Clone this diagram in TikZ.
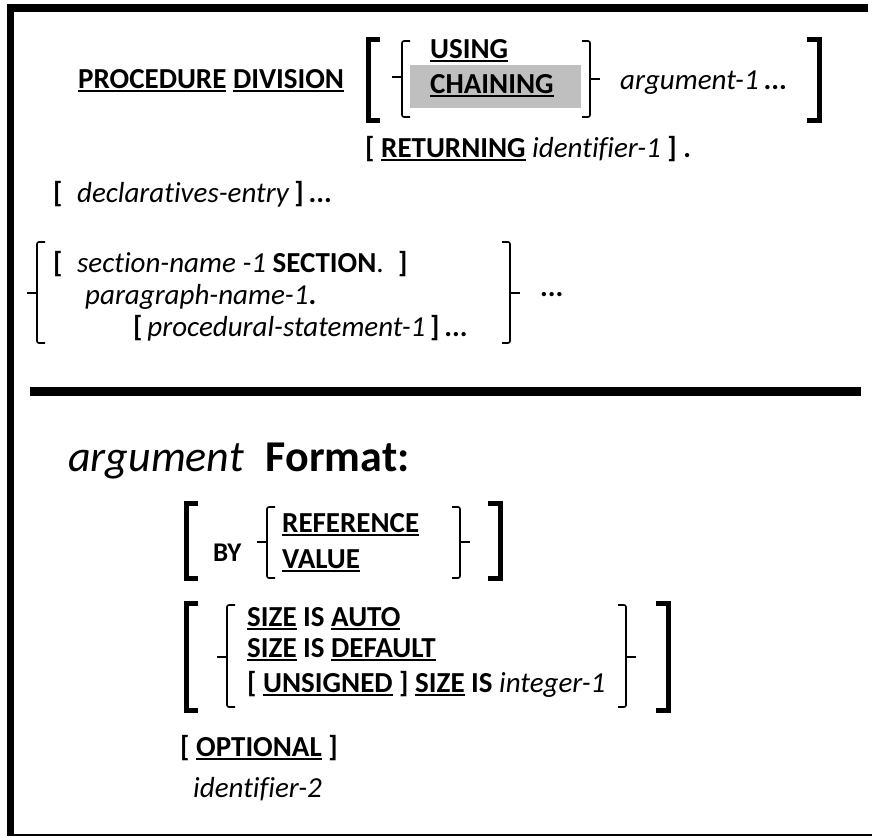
\documentclass[tikz,border=0pt]{standalone}
\usepackage{fontspec}
\setmainfont{Carlito}[Ligatures=NoCommon]
\usepackage{tikz}

% underlined bold keyword
\newcommand\kw[1]{\setbox0\hbox{\bfseries #1}\rlap{\rule[-4pt]{\wd0}{2.5pt}}\box0\relax}

\begin{document}
\begin{tikzpicture}[x=1pt,y=-1pt]
                \tikzstyle{txt}=[anchor=base west,inner sep=0pt,font=\fontsize{29}{35}\selectfont]
                \tikzstyle{bigbr}=[line width=5pt]
                \tikzstyle{brace}=[line width=1.6pt,rounded corners=2pt]
                \useasboundingbox (0,0) rectangle (872,836);

                % frame
                \fill (7,4) rectangle (868,12);
                \fill (7,4) rectangle (14,836);
                \draw[line width=1.5pt] (7,835) -- (872,835);

                % PROCEDURE DIVISION header
                \node[txt] (proc) at (78,88) {\kw{PROCEDURE} \kw{DIVISION}};
                \node[fill=black!25,minimum width=171pt,minimum height=43pt,anchor=north west,inner sep=0pt] (chainbox) at (410,65) {};
                \node[txt] (using) at (430,58) {\kw{USING}};
                \node[txt] (chaining) at (430,93) {\kw{CHAINING}};
                \node[txt] (arg1) at (620,89) {\textit{argument-1}\,\textbf{...}};
                \node[txt] (ret) at (365,157) {\textbf{[} \kw{RETURNING} \textit{identifier-1} \textbf{] .}};
                \node[txt] (decl) at (53,202) {\textbf{[}\enspace\textit{declaratives-entry}\,\textbf{]\,...}};
                \node[txt] (sect) at (53,272) {\textbf{[}\enspace\textit{section-name -1} \textbf{SECTION}.\enspace\textbf{]}};
                \node[txt] (para) at (85,304) {\textit{paragraph-name-1}\textbf{.}};
                \node[txt] (stmt) at (133,336) {\textbf{[}\,\textit{procedural-statement-1}\,\textbf{]\,...}};
                \node[txt] (sectdots) at (540,296) {\textbf{...}};

                % divider
                \fill (30,387) rectangle (861,396);

                % argument format
                \node[txt,font=\fontsize{44}{52}\selectfont] (fmt) at (68,471) {\textit{argument}\enspace\textbf{Format:}};
                \node[txt,font=\fontsize{27}{33}\selectfont] (by) at (213,561) {\textbf{BY}};
                \node[txt] (byref) at (282,532) {\kw{REFERENCE}};
                \node[txt] (byval) at (282,568) {\kw{VALUE}};
                \node[txt] (sauto) at (247,626) {\kw{SIZE} \textbf{IS} \kw{AUTO}};
                \node[txt] (sdef) at (247,657) {\kw{SIZE} \textbf{IS} \kw{DEFAULT}};
                \node[txt] (sint) at (247,692) {\textbf{[} \kw{UNSIGNED} \textbf{]} \kw{SIZE} \textbf{IS} \textit{integer-1}};
                \node[txt] (opt) at (180,756) {\textbf{[} \kw{OPTIONAL} \textbf{]}};
                \node[txt] (id2) at (193,797) {\textit{identifier-2}};

                % square brackets
                \foreach \x/\t/\b in {368/39/120, 186/503/578, 186/603/710}
                        \draw[bigbr] (\x+12,\t) -- (\x,\t) -- (\x,\b) -- (\x+12,\b);
                \foreach \x/\t/\b in {819/39/120, 500/503/578, 668/603/710}
                        \draw[bigbr] (\x-12,\t) -- (\x,\t) -- (\x,\b) -- (\x-12,\b);

                % braces
                \foreach \x/\t/\b/\m in {402/41/117/77, 37/242/343/293, 267/507/578/542, 227/605/707/657}
                        {\draw[brace] (\x+8,\t) -- (\x,\t) -- (\x,\b) -- (\x+8,\b);
                         \draw[brace] (\x,\m) -- (\x-10,\m);}
                \foreach \x/\t/\b/\m in {590/41/117/79, 510/242/343/293, 460/507/578/542, 626/605/707/657}
                        {\draw[brace] (\x-8,\t) -- (\x,\t) -- (\x,\b) -- (\x-8,\b);
                         \draw[brace] (\x,\m) -- (\x+10,\m);}
\end{tikzpicture}
\end{document}
